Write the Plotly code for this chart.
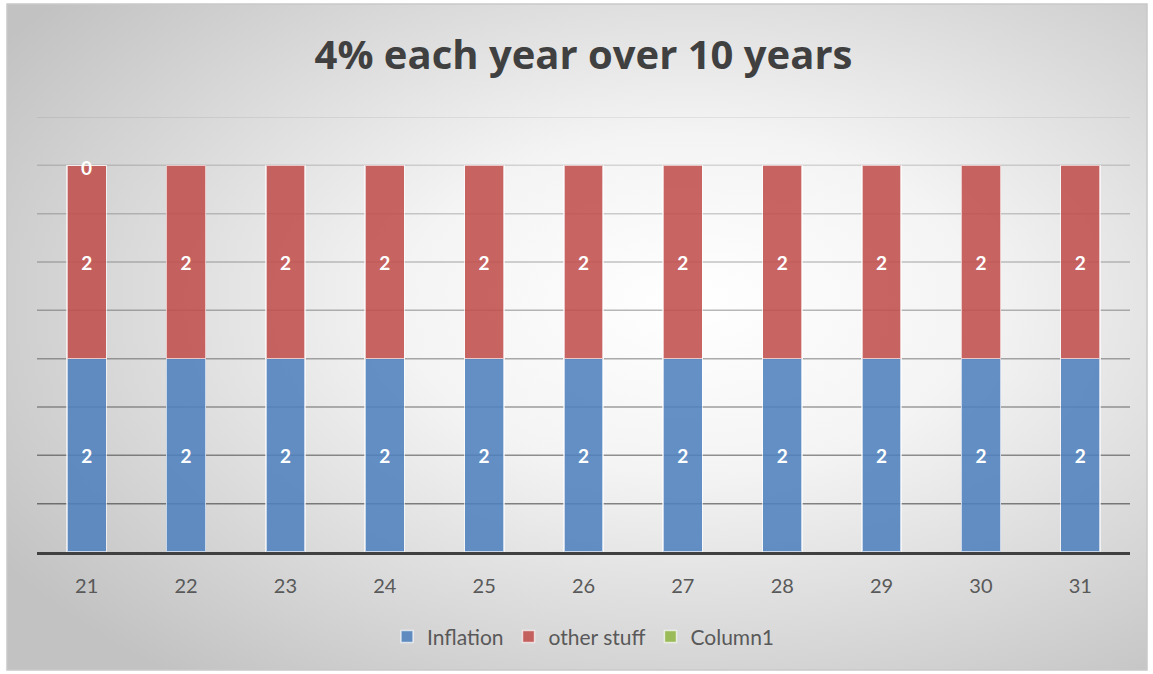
import base64
import plotly.graph_objects as go

# Chart data
years = ["21", "22", "23", "24", "25", "26", "27", "28", "29", "30", "31"]
inflation = [2, 2, 2, 2, 2, 2, 2, 2, 2, 2, 2]
other_stuff = [2, 2, 2, 2, 2, 2, 2, 2, 2, 2, 2]
column1 = [0, None, None, None, None, None, None, None, None, None, None]
grid_levels = [0.5, 1.0, 1.5, 2.0, 2.5, 3.0, 3.5, 4.0, 4.5]

title_text = "4% each year over 10 years"
FONT = "Lato"

fig = go.Figure()

bar_line = dict(color="rgba(255,255,255,0.65)", width=1.5)
label_font = dict(color="white", size=19, family=FONT, weight="bold")

fig.add_trace(go.Bar(
    x=years, y=inflation, name="Inflation",
    marker=dict(color="rgba(79,129,189,0.88)", line=bar_line),
    text=inflation, textposition="inside", insidetextanchor="middle",
    textangle=0, textfont=label_font, width=0.395,
))
fig.add_trace(go.Bar(
    x=years, y=other_stuff, name="other stuff",
    marker=dict(color="rgba(192,80,77,0.88)", line=bar_line),
    text=other_stuff, textposition="inside", insidetextanchor="middle",
    textangle=0, textfont=label_font, width=0.395,
))
fig.add_trace(go.Bar(
    x=years, y=column1, name="Column1",
    marker=dict(color="#9bbb59", line=bar_line), width=0.395,
))

# value label for Column1, placed at the top of each stack
tops = [a + b for a, b in zip(inflation, other_stuff)]
for i, (t, v) in enumerate(zip(tops, column1)):
    if v is None:
        continue
    fig.add_annotation(x=i, y=t + v, text=str(v), showarrow=False,
                       yshift=-2, font=label_font)

# radial gradient backdrop for the chart area
svg = (
    '<svg xmlns="http://www.w3.org/2000/svg" width="1140" height="666" '
    'preserveAspectRatio="none" viewBox="0 0 1140 666">'
    '<defs><radialGradient id="g" cx="0.6" cy="0.45" r="0.72">'
    '<stop offset="0" stop-color="#ffffff"/>'
    '<stop offset="0.35" stop-color="#f4f4f4"/>'
    '<stop offset="1" stop-color="#c2c2c2"/>'
    '</radialGradient></defs>'
    '<rect width="1140" height="666" fill="url(#g)"/></svg>'
)
svg_uri = "data:image/svg+xml;base64," + base64.b64encode(svg.encode()).decode()

# plot area in pixels: x 37..1130, y 117..552
PW, PH = 1093, 435
ax0 = (7 - 37) / PW
ax1 = (1147 - 37) / PW
ay1 = (552 - 4) / PH
ay0 = (552 - 670) / PH

fig.add_layout_image(dict(
    source=svg_uri, xref="paper", yref="paper", x=ax0, y=ay1,
    sizex=ax1 - ax0, sizey=ay1 - ay0, sizing="stretch",
    xanchor="left", yanchor="top", layer="below",
))
fig.add_shape(type="rect", xref="paper", yref="paper", x0=ax0, x1=ax1,
              y0=ay0, y1=ay1, line=dict(color="#c9c9c9", width=1.5),
              fillcolor="rgba(0,0,0,0)", layer="below")

# horizontal gridlines, fading toward the top
for lvl in grid_levels:
    alpha = 0.46 - (lvl - 0.5) / 4.0 * 0.37
    fig.add_shape(type="line", xref="paper", yref="y", x0=0, x1=1,
                  y0=lvl, y1=lvl, layer="below",
                  line=dict(color=f"rgba(0,0,0,{alpha:.3f})", width=1.5))

fig.update_layout(
    width=1153, height=674,
    margin=dict(l=37, r=23, t=117, b=122, autoexpand=False),
    paper_bgcolor="white", plot_bgcolor="rgba(0,0,0,0)",
    barmode="stack",
    title=dict(text=title_text, x=0.5, xanchor="center", xref="paper",
               y=1 - 55 / 674, yanchor="middle", yref="container",
               font=dict(family="Open Sans", size=40, color="#404040", weight="bold")),
    legend=dict(orientation="h", x=0.5, xanchor="center", y=-0.195,
                yanchor="middle", font=dict(family=FONT, size=21, color="#595959"),
                itemwidth=30, traceorder="normal", bgcolor="rgba(0,0,0,0)"),
    showlegend=True,
    font=dict(family=FONT),
)
fig.update_xaxes(type="category", range=[-0.5, len(years) - 0.5],
                 showline=True, linecolor="#404040", linewidth=3,
                 showgrid=False, ticks="", tickfont=dict(size=20, color="#595959", family=FONT),
                 ticklabelstandoff=14)
fig.update_yaxes(range=[0, 4.5], showgrid=False, showticklabels=False,
                 zeroline=False, showline=False)

fig.write_html("out.html")
